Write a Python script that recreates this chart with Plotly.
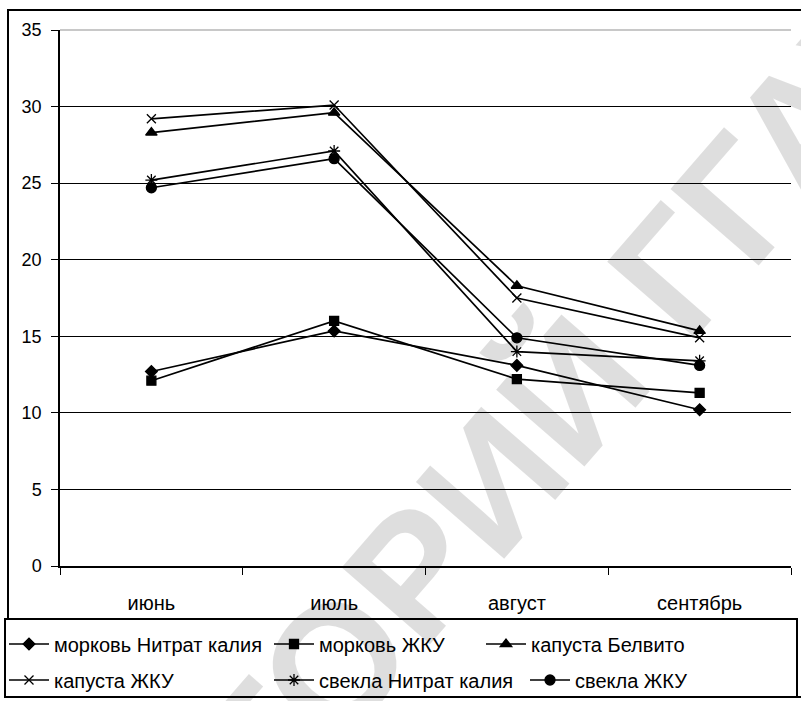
import plotly.graph_objects as go

# Months along the x axis
months = ["июнь", "июль", "август", "сентябрь"]

# Series values per month
morkov_nitrat = [12.7, 15.35, 13.1, 10.2]
morkov_zhku = [12.1, 16.0, 12.2, 11.3]
kapusta_belvito = [28.3, 29.6, 18.3, 15.35]
kapusta_zhku = [29.2, 30.1, 17.5, 14.9]
svekla_nitrat = [25.2, 27.1, 14.0, 13.4]
svekla_zhku = [24.7, 26.6, 14.9, 13.1]

series_names = [
    "морковь Нитрат калия",
    "морковь ЖКУ",
    "капуста Белвито",
    "капуста ЖКУ",
    "свекла Нитрат калия",
    "свекла ЖКУ",
]
series_values = [morkov_nitrat, morkov_zhku, kapusta_belvito,
                 kapusta_zhku, svekla_nitrat, svekla_zhku]
symbols = ["diamond", "square", "triangle-up", "x-thin-open", "asterisk-open", "circle"]
sizes = [9, 9, 10, 9, 10, 10]

W, H = 801, 701
ML, MR, MT, MB = 60, 10, 30, 135
PW, PH = W - ML - MR, H - MT - MB


def px(x):
    return (x - ML) / PW


def py(y):
    return (H - MB - y) / PH


FONT = "Liberation Sans, Arial, sans-serif"

fig = go.Figure()

# legend placement: two rows, three entries each
legend_pos = [(14, 644), (279, 644), (491, 644), (14, 680), (279, 680), (535, 680)]

for i, (name, vals, sym, sz) in enumerate(zip(series_names, series_values, symbols, sizes)):
    lg = "legend" if i == 0 else f"legend{i + 1}"
    fig.add_trace(go.Scatter(
        x=months, y=vals, name=name, mode="lines+markers",
        line=dict(color="black", width=1.7),
        marker=dict(symbol=sym, size=sz, color="black",
                    line=dict(color="black", width=1.3)),
        legend=lg,
    ))

layout_legends = {}
for i, (lx, ly) in enumerate(legend_pos):
    key = "legend" if i == 0 else f"legend{i + 1}"
    layout_legends[key] = dict(
        x=px(lx - 10), y=py(ly), xanchor="left", yanchor="middle",
        bgcolor="rgba(0,0,0,0)", borderwidth=0,
        font=dict(family=FONT, size=20, color="black"),
        itemwidth=40, itemsizing="trace",
    )

fig.update_layout(
    width=W, height=H,
    margin=dict(l=ML, r=MR, t=MT, b=MB, autoexpand=False),
    paper_bgcolor="white", plot_bgcolor="white",
    showlegend=True,
    xaxis=dict(
        type="category", range=[-0.5, 3.5], tickson="boundaries",
        showline=True, linecolor="black", linewidth=1.5,
        ticks="outside", ticklen=7, tickcolor="black", tickwidth=1.2,
        showgrid=False, zeroline=False,
        tickfont=dict(family=FONT, size=20, color="black"),
        ticklabelstandoff=18,
    ),
    yaxis=dict(
        range=[0, 35], dtick=5, tick0=0,
        showline=True, linecolor="black", linewidth=1.5,
        ticks="outside", ticklen=7, tickcolor="black", tickwidth=1.2,
        showgrid=True, gridcolor="black", gridwidth=1.3,
        zeroline=False,
        tickfont=dict(family=FONT, size=18, color="black"),
        ticklabelstandoff=6,
    ),
    **layout_legends,
)

shapes = [
    # light top border of the plot area
    dict(type="line", xref="paper", yref="paper", x0=0, x1=1, y0=1, y1=1,
         line=dict(color="#c8c8c8", width=2), layer="above"),
    # chart frame
    dict(type="rect", xref="paper", yref="paper",
         x0=px(8), x1=px(806), y0=py(697), y1=py(10),
         line=dict(color="black", width=2), layer="below"),
    # legend frame
    dict(type="rect", xref="paper", yref="paper",
         x0=px(5), x1=px(797), y0=py(697), y1=py(619),
         line=dict(color="black", width=2), fillcolor="white", layer="below"),
]
fig.update_layout(shapes=shapes)

# repository watermark
fig.add_annotation(
    text="<b>РЕПОЗИТОРИЙ ГГАУ</b>", xref="paper", yref="paper",
    x=px(334), y=py(663), xanchor="center", yanchor="middle",
    showarrow=False, textangle=-49,
    font=dict(family=FONT, size=170, color="rgba(0,0,0,0.13)"),
)

fig.write_html("out.html")
